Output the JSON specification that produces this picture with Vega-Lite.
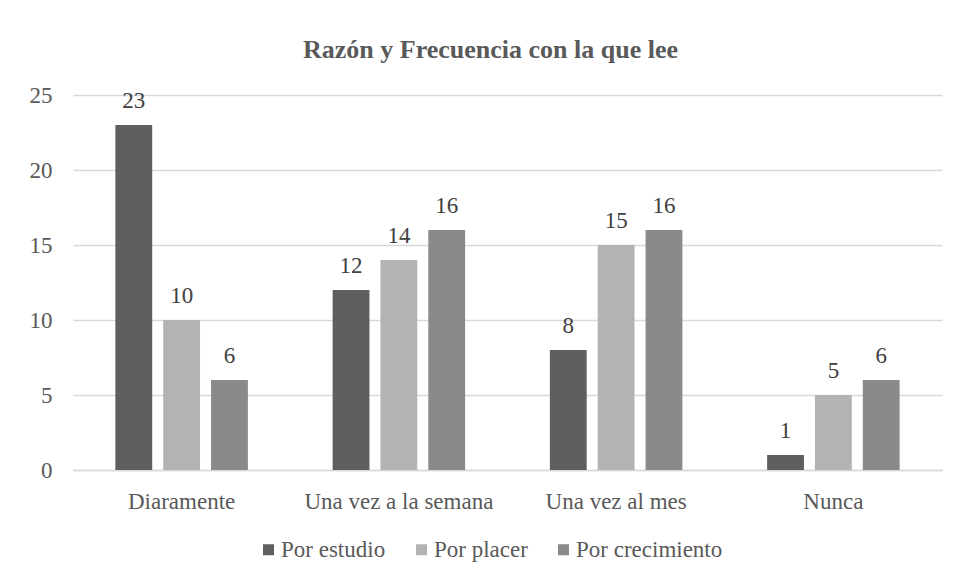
{
  "$schema": "https://vega.github.io/schema/vega-lite/v6.json",
  "width": 869,
  "height": 375,
  "autosize": {"type": "none"},
  "padding": {"left": 73, "top": 95, "right": 18, "bottom": 111},
  "background": "white",
  "title": {
    "text": "Razón y Frecuencia con la que lee",
    "font": "'Liberation Serif', 'DejaVu Serif', serif",
    "fontSize": 26,
    "fontWeight": "bold",
    "color": "#595959",
    "anchor": "middle",
    "baseline": "alphabetic",
    "offset": 0,
    "dx": -17
  },
  "data": {
    "values": [
      {"frecuencia": "Diaramente", "razon": "Por estudio", "valor": 23},
      {"frecuencia": "Diaramente", "razon": "Por placer", "valor": 10},
      {"frecuencia": "Diaramente", "razon": "Por crecimiento", "valor": 6},
      {"frecuencia": "Una vez a la semana", "razon": "Por estudio", "valor": 12},
      {"frecuencia": "Una vez a la semana", "razon": "Por placer", "valor": 14},
      {"frecuencia": "Una vez a la semana", "razon": "Por crecimiento", "valor": 16},
      {"frecuencia": "Una vez al mes", "razon": "Por estudio", "valor": 8},
      {"frecuencia": "Una vez al mes", "razon": "Por placer", "valor": 15},
      {"frecuencia": "Una vez al mes", "razon": "Por crecimiento", "valor": 16},
      {"frecuencia": "Nunca", "razon": "Por estudio", "valor": 1},
      {"frecuencia": "Nunca", "razon": "Por placer", "valor": 5},
      {"frecuencia": "Nunca", "razon": "Por crecimiento", "valor": 6}
    ]
  },
  "encoding": {
    "x": {
      "field": "frecuencia",
      "type": "nominal",
      "sort": ["Diaramente", "Una vez a la semana", "Una vez al mes", "Nunca"],
      "scale": {"paddingInner": 0.39, "paddingOuter": 0.195},
      "axis": {
        "title": null,
        "labelAngle": 0,
        "labelFont": "'Liberation Serif', 'DejaVu Serif', serif",
        "labelFontSize": 23,
        "labelColor": "#595959",
        "labelBaseline": "alphabetic",
        "labelPadding": 38,
        "labelLimit": 0,
        "ticks": false,
        "domainColor": "#d9d9d9",
        "domainWidth": 1.5
      }
    },
    "xOffset": {
      "field": "razon",
      "type": "nominal",
      "sort": ["Por estudio", "Por placer", "Por crecimiento"],
      "scale": {"paddingInner": 0.23, "paddingOuter": 0}
    },
    "y": {
      "field": "valor",
      "type": "quantitative",
      "scale": {"domain": [0, 25]},
      "axis": {
        "title": null,
        "values": [0, 5, 10, 15, 20, 25],
        "labelFont": "'Liberation Serif', 'DejaVu Serif', serif",
        "labelFontSize": 23,
        "labelColor": "#595959",
        "labelPadding": 21,
        "ticks": false,
        "domain": false,
        "gridColor": "#d9d9d9",
        "gridWidth": 1.5
      }
    }
  },
  "layer": [
    {
      "mark": {"type": "bar"},
      "encoding": {
        "color": {
          "field": "razon",
          "type": "nominal",
          "sort": ["Por estudio", "Por placer", "Por crecimiento"],
          "scale": {
            "domain": ["Por estudio", "Por placer", "Por crecimiento"],
            "range": ["#5f5f5f", "#b3b3b3", "#8a8a8a"]
          },
          "legend": {
            "title": null,
            "orient": "none",
            "direction": "horizontal",
            "legendX": 184,
            "legendY": 443,
            "symbolType": "square",
            "symbolSize": 121,
            "symbolStrokeWidth": 0,
            "labelFont": "'Liberation Serif', 'DejaVu Serif', serif",
            "labelFontSize": 23,
            "labelColor": "#595959",
            "labelOffset": 1,
            "labelLimit": 0,
            "columnPadding": 24
          }
        }
      }
    },
    {
      "mark": {
        "type": "text",
        "baseline": "alphabetic",
        "dy": -17,
        "font": "'Liberation Serif', 'DejaVu Serif', serif",
        "fontSize": 23,
        "color": "#404040"
      },
      "encoding": {
        "text": {"field": "valor", "type": "quantitative"}
      }
    }
  ],
  "config": {
    "view": {"stroke": null}
  }
}
